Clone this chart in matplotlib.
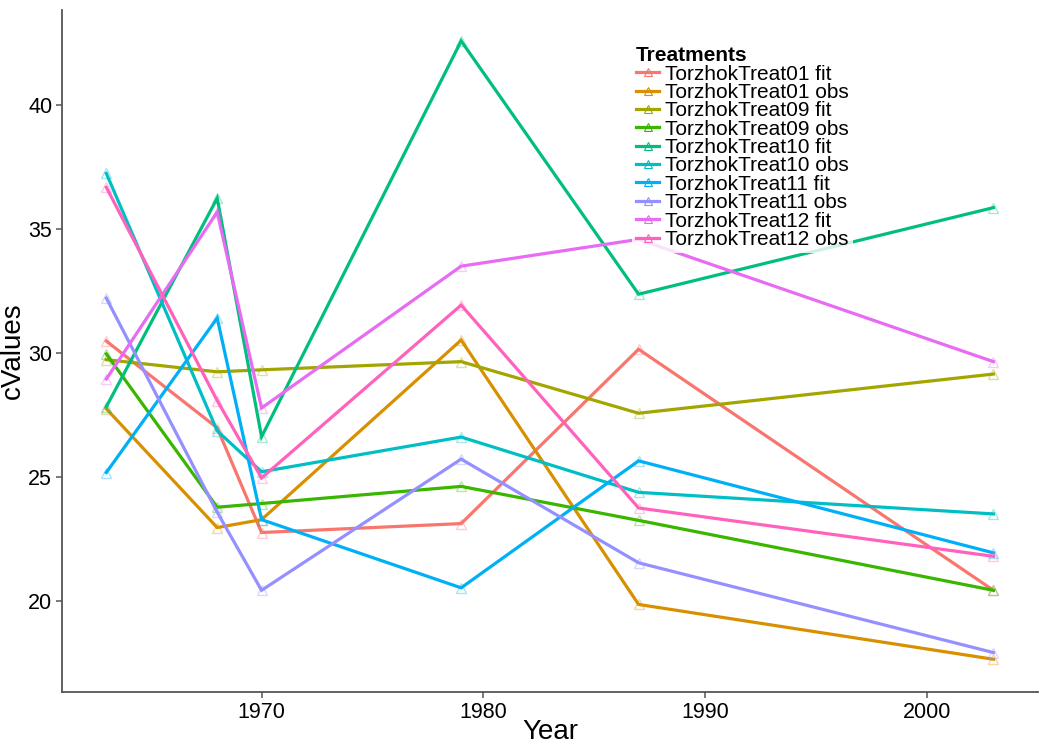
import matplotlib
matplotlib.use("Agg")
import matplotlib.pyplot as plt

# Daten
YEARS = [1963, 1968, 1970, 1979, 1987, 2003]

SERIES_NAMES = [
    "TorzhokTreat01 fit", "TorzhokTreat01 obs",
    "TorzhokTreat09 fit", "TorzhokTreat09 obs",
    "TorzhokTreat10 fit", "TorzhokTreat10 obs",
    "TorzhokTreat11 fit", "TorzhokTreat11 obs",
    "TorzhokTreat12 fit", "TorzhokTreat12 obs",
]

treat01_fit = [30.5, 27.0, 22.78, 23.14, 30.17, 20.45]
treat01_obs = [27.77, 22.98, 23.3, 30.54, 19.88, 17.67]
treat09_fit = [29.75, 29.26, 29.34, 29.67, 27.59, 29.17]
treat09_obs = [29.98, 23.8, 23.95, 24.64, 23.27, 20.45]
treat10_fit = [27.85, 36.26, 26.64, 42.6, 32.39, 35.88]
treat10_obs = [37.26, 26.88, 25.23, 26.63, 24.4, 23.53]
treat11_fit = [25.2, 31.43, 23.3, 20.55, 25.67, 21.96]
treat11_obs = [32.23, 23.6, 20.45, 25.74, 21.56, 17.94]
treat12_fit = [28.97, 35.7, 27.8, 33.52, 34.6, 29.67]
treat12_obs = [36.7, 28.1, 24.98, 31.95, 23.77, 21.82]

SERIES_VALUES = [
    treat01_fit, treat01_obs, treat09_fit, treat09_obs, treat10_fit,
    treat10_obs, treat11_fit, treat11_obs, treat12_fit, treat12_obs,
]

# ggplot2 Standardfarben fuer 10 Gruppen
COLORS = [
    "#F8766D", "#D89000", "#A3A500", "#39B600", "#00BF7D",
    "#00BFC4", "#00B0F6", "#9590FF", "#E76BF3", "#FF62BC",
]

plt.rcParams["font.family"] = ["Liberation Sans", "DejaVu Sans"]

fig = plt.figure(figsize=(10.43, 7.44), dpi=100)
ax = fig.add_axes([0.0594, 0.0699, 0.9356, 0.9167])

for name, values, color in zip(SERIES_NAMES, SERIES_VALUES, COLORS):
    ax.plot(YEARS, values, color=color, linewidth=2.3, label=name,
            solid_joinstyle="miter")
    ax.plot(YEARS, values, linestyle="none", marker="^", markersize=7,
            markerfacecolor="none", markeredgecolor=color,
            markeredgewidth=1.0, alpha=0.35)

ax.set_xlim(1961, 2005)
ax.set_ylim(16.35, 43.85)
ax.set_xticks([1970, 1980, 1990, 2000])
ax.set_yticks([20, 25, 30, 35, 40])

for side in ["top", "right"]:
    ax.spines[side].set_visible(False)
for side in ["left", "bottom"]:
    ax.spines[side].set_color("#555555")
    ax.spines[side].set_linewidth(1.3)

ax.tick_params(axis="both", labelsize=15.5, color="#555555", length=4,
               width=1.1, labelcolor="black", pad=3)
ax.set_xlabel("Year", fontsize=20, va="baseline")
ax.set_ylabel("cValues", fontsize=20)
ax.xaxis.set_label_coords(0.5, -0.069, transform=ax.transAxes)
ax.yaxis.set_label_coords(-0.037, 0.5, transform=ax.transAxes)

handles = [
    plt.Line2D([], [], color=c, linewidth=2.3, marker="^", markersize=6,
               markerfacecolor="none", markeredgewidth=0.8)
    for c in COLORS
]
leg = ax.legend(
    handles, SERIES_NAMES, title="Treatments",
    loc="upper left", bbox_to_anchor=(632 / 1043, 1 - 42 / 744),
    bbox_transform=fig.transFigure,
    fontsize=15, title_fontsize=15, frameon=True, fancybox=False,
    handlelength=1.1, handletextpad=0.3, labelspacing=-0.03,
    borderpad=0.2, borderaxespad=0,
)
leg.get_frame().set_facecolor("white")
leg.get_frame().set_edgecolor("none")
leg.get_title().set_fontweight("bold")
leg._legend_box.align = "left"

fig.savefig("out.png", dpi=100)
